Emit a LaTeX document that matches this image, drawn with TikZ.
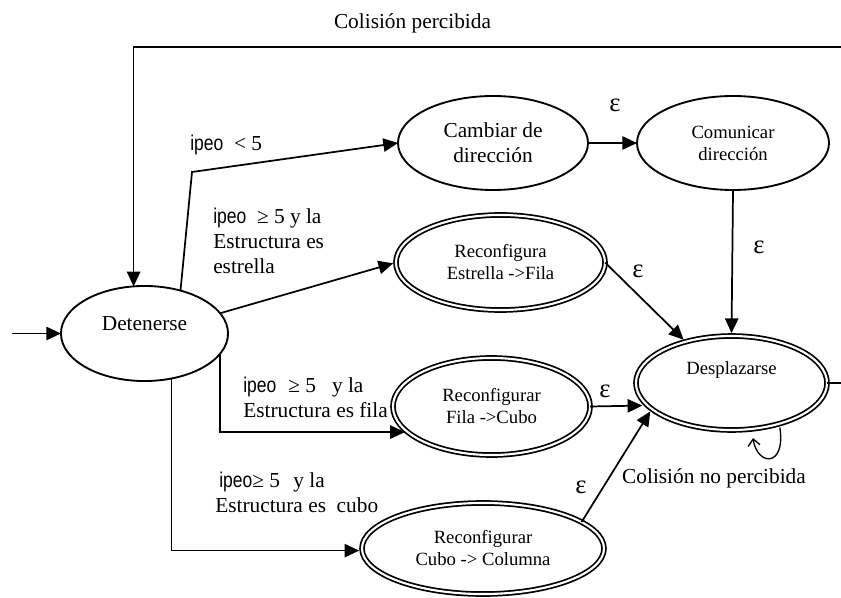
\documentclass[tikz,border=0pt]{standalone}
\usepackage{fontspec}
\usepackage{graphicx}
\setmainfont{Liberation Serif}
\newfontfamily\arialf{Liberation Sans}
\usetikzlibrary{shapes.geometric,arrows.meta}
\newcommand{\ipeo}{{\arialf\fontsize{16}{18}\selectfont\scalebox{0.82}[1]{ipeo}}}
\begin{document}
\begin{tikzpicture}[x=0.75pt,y=-0.75pt,
  st/.style={ellipse,draw,line width=1.4pt,inner sep=0pt,outer sep=0pt,align=center},
  fin/.style={ellipse,draw,double,line width=1.3pt,double distance=1.6pt,inner sep=0pt,outer sep=0pt,align=center},
  big/.style={font=\fontsize{16}{18.75}\selectfont},
  sml/.style={font=\fontsize{14}{16.5}\selectfont},
  conn/.style={line width=1.3pt,-{Triangle[length=11pt,width=10pt]}},
  eps/.style={font=\fontsize{20}{20}\selectfont,inner sep=0pt},
  lab/.style={big,align=left,anchor=west,inner sep=0pt}]
\useasboundingbox (0,0) rectangle (841,598);

% states
\node[st,minimum width=125.3pt,minimum height=71.3pt,label={[big,yshift=7.5pt]center:Detenerse}] (det) at (144.5,333.5) {};
\node[st,big,minimum width=142.5pt,minimum height=70.5pt] (cam) at (493,143) {Cambiar de\\dirección};
\node[st,sml,minimum width=144pt,minimum height=70.5pt] (com) at (733,143) {Comunicar\\dirección};
\node[fin,sml,minimum width=156.8pt,minimum height=71.3pt] (est) at (500.5,262.5) {Reconfigura\\Estrella ->Fila};
\node[fin,sml,minimum width=147.8pt,minimum height=72.8pt] (fila) at (491.5,406.5) {Reconfigurar\\Fila ->Cubo};
\node[fin,sml,minimum width=181.5pt,minimum height=68.3pt] (cubo) at (483,548.5) {Reconfigurar\\Cubo -> Columna};
\node[fin,minimum width=143.3pt,minimum height=70.5pt,label={[sml,yshift=9.75pt]center:Desplazarse}] (des) at (731.5,383) {};

% connectors
\coordinate (in) at (12,333.5);
\draw[conn] (in) -- (det.west);
\coordinate (b1) at (192,172);
\draw[conn] (det.50.5) -- (b1) -- (cam.west);
\draw[conn,shorten >=2.2pt] (det.15) -- (est.west);
\draw[conn,shorten >=2.2pt] (det.-15) |- (fila.197);
\draw[conn,shorten >=2.2pt] (det.-59.8) |- (cubo.181);
\draw[conn] (cam.east) -- (com.west);
\draw[conn,shorten >=2.2pt] (com.south) -- (des.north);
\draw[conn,shorten >=2.2pt] (est.east) -- (des.138);
\draw[conn,shorten >=4pt] (fila.east) -- (des.195);
\draw[conn,shorten >=2.2pt] (cubo.15) -- (des.198);
\coordinate (tr) at (843,47);
\draw[conn] (des.east) -| (tr) -| (det.103.7);
\coordinate (le) at (753,438);
\draw[line width=1pt,-{Straight Barb[length=5pt,width=9pt]}] ([yshift=-3pt]des.-40) .. controls (786,468) and (757,466) .. (le);

% labels
\node[big] (t1) at (412.5,23) {Colisión percibida};
\node[big] (t2) at (714,478) {Colisión no percibida};
\node[lab] (l1) at (190,145) {\ipeo\ \ < 5};
\node[lab] (l2) at (213,241) {\ipeo\ \ ≥ 5 y la\\Estructura es\\estrella};
\node[lab] (l3) at (243,397) {\ipeo\hspace{9pt}≥ 5\hspace{12pt}y la\\Estructura es fila};
\node[lab] (l4) at (215,492) {\hspace{3pt}\ipeo≥ 5\hspace{10pt}y la\\Estructura es\ \ cubo};

\node[eps] (e1) at (615,105) {ε};
\node[eps] (e2) at (759,247) {ε};
\node[eps] (e3) at (638,271) {ε};
\node[eps] (e4) at (605,391) {ε};
\node[eps] (e5) at (581,487) {ε};
\end{tikzpicture}
\end{document}
